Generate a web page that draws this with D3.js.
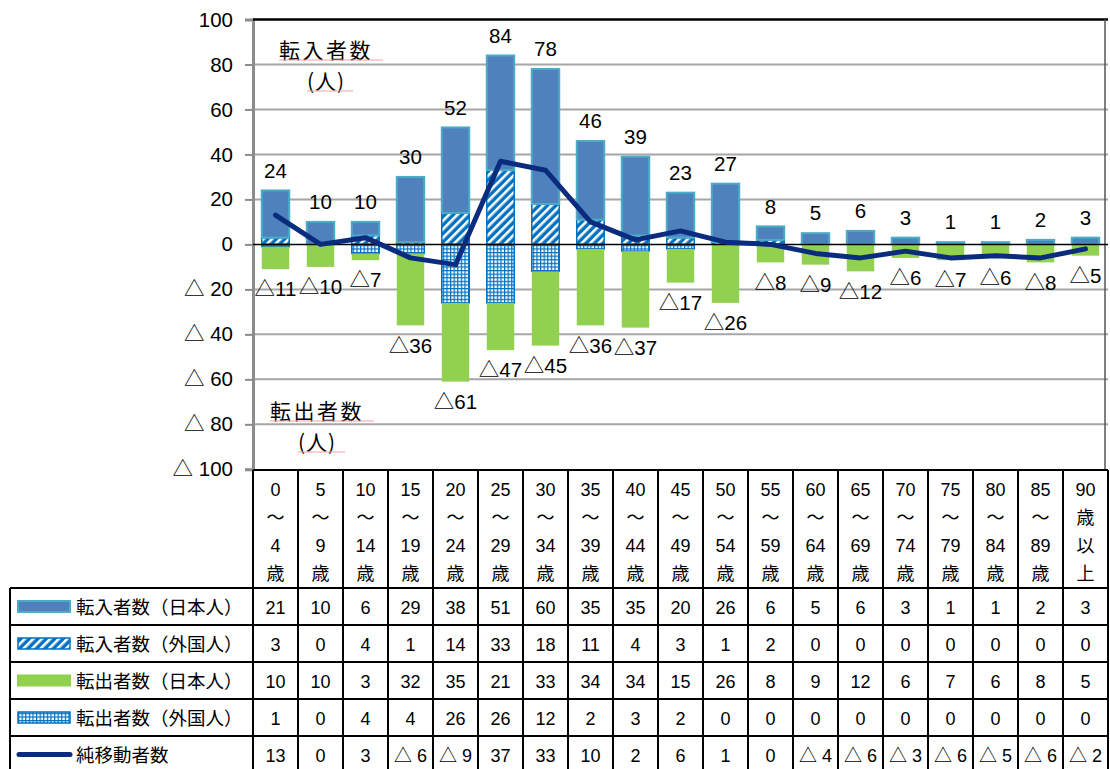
<!DOCTYPE html>
<html lang="ja">
<head>
<meta charset="utf-8">
<script src="https://cdn.jsdelivr.net/npm/d3@7"></script>
<style>
  html, body { margin: 0; padding: 0; background: #fff; }
  svg { display: block; }
  text { font-family: "Liberation Sans", Arial, "Noto Sans CJK JP", sans-serif; fill: #000; }
  .jp { font-family: "Noto Sans CJK JP", sans-serif; }
</style>
</head>
<body>
<svg id="chart" width="1110" height="769"></svg>
<script>
// 年齢階級（表の見出しは縦書きの行に分けて表示）
const categories = [
  ["0","～","4","歳"], ["5","～","9","歳"], ["10","～","14","歳"], ["15","～","19","歳"],
  ["20","～","24","歳"], ["25","～","29","歳"], ["30","～","34","歳"], ["35","～","39","歳"],
  ["40","～","44","歳"], ["45","～","49","歳"], ["50","～","54","歳"], ["55","～","59","歳"],
  ["60","～","64","歳"], ["65","～","69","歳"], ["70","～","74","歳"], ["75","～","79","歳"],
  ["80","～","84","歳"], ["85","～","89","歳"], ["90","歳","以","上"]
];

// 系列データ（人）
const inJapanese  = [21, 10, 6, 29, 38, 51, 60, 35, 35, 20, 26, 6, 5, 6, 3, 1, 1, 2, 3];
const inForeign   = [3, 0, 4, 1, 14, 33, 18, 11, 4, 3, 1, 2, 0, 0, 0, 0, 0, 0, 0];
const outJapanese = [10, 10, 3, 32, 35, 21, 33, 34, 34, 15, 26, 8, 9, 12, 6, 7, 6, 8, 5];
const outForeign  = [1, 0, 4, 4, 26, 26, 12, 2, 3, 2, 0, 0, 0, 0, 0, 0, 0, 0, 0];
const netMigration = [13, 0, 3, -6, -9, 37, 33, 10, 2, 6, 1, 0, -4, -6, -3, -6, -5, -6, -2];

// 縦軸の目盛
const yTicks = [100, 80, 60, 40, 20, 0, -20, -40, -60, -80, -100];

// 表の行見出し
const seriesNames = ["転入者数（日本人）", "転入者数（外国人）", "転出者数（日本人）", "転出者数（外国人）", "純移動者数"];

const fmtSigned = v => v < 0 ? "△ " + Math.abs(v) : String(v);

const svg = d3.select("#chart");
const ids = categories.map((_, i) => i);

const colW = 45;
const left = 253;
const x = d3.scaleBand().domain(ids).range([left, left + colW * ids.length]).paddingInner(0.39).paddingOuter(0.195);
const xCol = d3.scaleBand().domain(ids).range([left, left + colW * ids.length]);
const y = d3.scaleLinear().domain([-100, 100]).range([469.3, 19.5]);
const right = xCol.range()[1];

// 塗りパターン
const defs = svg.append("defs");
const stripe = defs.append("pattern").attr("id", "stripe")
  .attr("patternUnits", "userSpaceOnUse").attr("width", 6).attr("height", 6)
  .attr("patternTransform", "rotate(45)");
stripe.append("rect").attr("width", 6).attr("height", 6).attr("fill", "#0070C0");
stripe.append("rect").attr("x", 0).attr("width", 2.6).attr("height", 6).attr("fill", "#fff");

const dots = defs.append("pattern").attr("id", "dots")
  .attr("patternUnits", "userSpaceOnUse").attr("width", 3.6).attr("height", 3.6);
dots.append("rect").attr("width", 3.6).attr("height", 3.6).attr("fill", "#fff");
dots.append("rect").attr("x", 0).attr("y", 0).attr("width", 3.6).attr("height", 1.2).attr("fill", "#0070C0");
dots.append("rect").attr("x", 0).attr("y", 0).attr("width", 1.2).attr("height", 3.6).attr("fill", "#0070C0");

// 目盛線
svg.append("g").selectAll("line").data(yTicks.filter(t => t !== 0 && t !== 100 && t !== -100)).join("line")
  .attr("x1", left).attr("x2", right).attr("y1", d => y(d)).attr("y2", d => y(d))
  .attr("stroke", "#a6a6a6").attr("stroke-width", 2);

// 縦軸
const yAxis = d3.axisLeft(y).tickValues(yTicks).tickSize(8).tickPadding(12).tickFormat(fmtSigned);
const gy = svg.append("g").attr("transform", `translate(${left},0)`).call(yAxis);
gy.select(".domain").attr("stroke", "#8c8c8c").attr("stroke-width", 3);
gy.selectAll(".tick line").attr("stroke", "#8c8c8c").attr("stroke-width", 2);
gy.selectAll(".tick text").attr("font-size", 20.5).attr("fill", "#000")
  .style("font-family", "\"Liberation Sans\", Arial, \"Noto Sans CJK JP\", sans-serif");

// 上端と右端の枠
svg.append("line").attr("x1", left).attr("x2", right).attr("y1", y(100)).attr("y2", y(100))
  .attr("stroke", "#000").attr("stroke-width", 2.5);
svg.append("line").attr("x1", right - 3).attr("x2", right - 3).attr("y1", y(100)).attr("y2", y(-100))
  .attr("stroke", "#555").attr("stroke-width", 1.5);

// 積み上げ棒
const bars = svg.append("g");
// 転入（外国人）: 0 から上へ
bars.selectAll(".inF").data(ids.filter(i => inForeign[i] > 0)).join("rect")
  .attr("x", i => x(i)).attr("width", x.bandwidth())
  .attr("y", i => y(inForeign[i])).attr("height", i => y(0) - y(inForeign[i]))
  .attr("fill", "url(#stripe)").attr("stroke", "#0070C0").attr("stroke-width", 1.5);
// 転入（日本人）: 外国人の上に積む
bars.selectAll(".inJ").data(ids).join("rect")
  .attr("x", i => x(i)).attr("width", x.bandwidth())
  .attr("y", i => y(inForeign[i] + inJapanese[i]))
  .attr("height", i => y(inForeign[i]) - y(inForeign[i] + inJapanese[i]))
  .attr("fill", "#4F81BD").attr("stroke", "#4BACC6").attr("stroke-width", 2);
// 転出（外国人）: 0 から下へ
bars.selectAll(".outF").data(ids.filter(i => outForeign[i] > 0)).join("rect")
  .attr("x", i => x(i)).attr("width", x.bandwidth())
  .attr("y", y(0)).attr("height", i => y(-outForeign[i]) - y(0))
  .attr("fill", "url(#dots)").attr("stroke", "#0070C0").attr("stroke-width", 1.5);
// 転出（日本人）
bars.selectAll(".outJ").data(ids).join("rect")
  .attr("x", i => x(i)).attr("width", x.bandwidth())
  .attr("y", i => y(-outForeign[i]))
  .attr("height", i => y(-(outForeign[i] + outJapanese[i])) - y(-outForeign[i]))
  .attr("fill", "#92D050");

// 0 の基線
svg.append("line").attr("x1", left).attr("x2", right).attr("y1", y(0)).attr("y2", y(0))
  .attr("stroke", "#000").attr("stroke-width", 1.5);

// 純移動者数の折れ線
const line = d3.line().x(i => xCol(i) + xCol.bandwidth() / 2).y(i => y(netMigration[i]));
svg.append("path").datum(ids).attr("d", line)
  .attr("fill", "none").attr("stroke", "#0B2C7E").attr("stroke-width", 5)
  .attr("stroke-linejoin", "round").attr("stroke-linecap", "round");

// 合計ラベル
svg.append("g").selectAll("text").data(ids).join("text")
  .attr("x", i => xCol(i) + xCol.bandwidth() / 2)
  .attr("y", i => y(inForeign[i] + inJapanese[i]) - 20)
  .attr("dy", "0.35em").attr("text-anchor", "middle").attr("font-size", 20.5)
  .text(i => inForeign[i] + inJapanese[i]);
svg.append("g").selectAll("text").data(ids).join("text")
  .attr("x", i => xCol(i) + xCol.bandwidth() / 2)
  .attr("y", i => y(-(outForeign[i] + outJapanese[i])) + 20)
  .attr("dy", "0.35em").attr("text-anchor", "middle").attr("font-size", 20.5)
  .text(i => "△" + (outForeign[i] + outJapanese[i]));

// 注記
const notes = [
  { t: "転入者数", x: 279, y: 59, u: [279, 383], ls: 2.5 },
  { t: "(人)", x: 307, y: 90, u: [307, 353], ls: 1 },
  { t: "転出者数", x: 270, y: 420, u: [270, 374], ls: 2.5 },
  { t: "(人)", x: 298, y: 451, u: [298, 345], ls: 1 }
];
notes.forEach(n => {
  svg.append("text").attr("class", "jp").attr("x", n.x).attr("y", n.y - 1)
    .attr("font-size", 21).attr("letter-spacing", n.ls).text(n.t);
  svg.append("line").attr("x1", n.u[0]).attr("x2", n.u[1]).attr("y1", n.y + 1).attr("y2", n.y + 1)
    .attr("stroke", "#f4a0a0").attr("stroke-width", 1.2);
});

// データ表
const headTop = 470, rowTop = 588, rowH = 37, legendLeft = 10;
const table = svg.append("g");
const rows = [inJapanese, inForeign, outJapanese, outForeign, netMigration];

// 見出しの年齢階級
categories.forEach((lines, i) => {
  lines.forEach((s, k) => {
    table.append("text")
      .attr("x", xCol(i) + xCol.bandwidth() / 2).attr("y", 490 + k * 28)
      .attr("dy", "0.35em").attr("text-anchor", "middle").attr("font-size", 18)
      .text(s);
  });
});

// 数値
rows.forEach((vals, r) => {
  vals.forEach((v, i) => {
    table.append("text")
      .attr("x", xCol(i) + xCol.bandwidth() / 2).attr("y", rowTop + rowH * r + rowH / 2 + 1)
      .attr("dy", "0.35em").attr("text-anchor", "middle").attr("font-size", 18)
      .text(fmtSigned(v));
  });
  table.append("text").attr("class", "jp")
    .attr("x", 76).attr("y", rowTop + rowH * r + rowH / 2 + 1)
    .attr("dy", "0.35em").attr("font-size", 18.5)
    .text(seriesNames[r]);
});

// 凡例記号
const keyY = r => rowTop + rowH * r + rowH / 2;
table.append("rect").attr("x", 18).attr("y", keyY(0) - 5.5).attr("width", 52).attr("height", 11)
  .attr("fill", "#4F81BD").attr("stroke", "#4BACC6").attr("stroke-width", 2);
table.append("rect").attr("x", 18).attr("y", keyY(1) - 5.5).attr("width", 52).attr("height", 11)
  .attr("fill", "url(#stripe)").attr("stroke", "#0070C0").attr("stroke-width", 1.5);
table.append("rect").attr("x", 17).attr("y", keyY(2) - 6).attr("width", 54).attr("height", 12)
  .attr("fill", "#92D050");
table.append("rect").attr("x", 18).attr("y", keyY(3) - 5.5).attr("width", 52).attr("height", 11)
  .attr("fill", "url(#dots)").attr("stroke", "#0070C0").attr("stroke-width", 1.5);
table.append("line").attr("x1", 19).attr("x2", 70).attr("y1", keyY(4)).attr("y2", keyY(4))
  .attr("stroke", "#0B2C7E").attr("stroke-width", 5).attr("stroke-linecap", "round");

// 罫線
const bottom = rowTop + rowH * rows.length;
table.append("line").attr("x1", left).attr("x2", right).attr("y1", headTop).attr("y2", headTop)
  .attr("stroke", "#000").attr("stroke-width", 2);
d3.range(rows.length + 1).forEach(r => {
  table.append("line").attr("x1", legendLeft).attr("x2", right)
    .attr("y1", rowTop + rowH * r).attr("y2", rowTop + rowH * r)
    .attr("stroke", "#000").attr("stroke-width", 2);
});
table.append("line").attr("x1", legendLeft).attr("x2", legendLeft).attr("y1", rowTop).attr("y2", bottom)
  .attr("stroke", "#000").attr("stroke-width", 2);
d3.range(ids.length + 1).forEach(i => {
  const xx = left + colW * i;
  table.append("line").attr("x1", xx).attr("x2", xx).attr("y1", headTop).attr("y2", bottom)
    .attr("stroke", "#000").attr("stroke-width", 2);
});
</script>
</body>
</html>
